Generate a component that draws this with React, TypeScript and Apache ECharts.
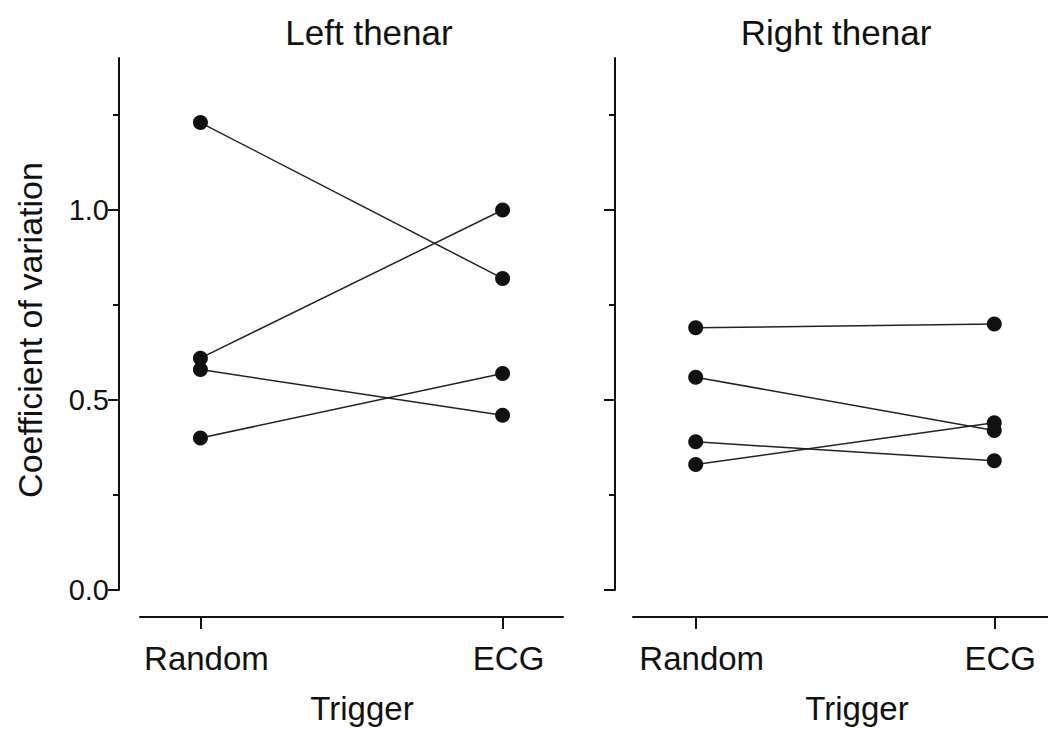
import React, { useEffect, useRef } from "react";
import * as echarts from "echarts";

// Coefficient of variation per subject, paired Random vs ECG trigger
const categories = ["Random", "ECG"];
const leftRandom = [1.23, 0.61, 0.58, 0.4];
const leftEcg = [0.82, 1.0, 0.46, 0.57];
const rightRandom = [0.69, 0.56, 0.39, 0.33];
const rightEcg = [0.7, 0.42, 0.34, 0.44];
const majorTicks = [0, 0.5, 1.0];
const minorTicks = [0.25, 0.75, 1.25];
const panelTitles = ["Left thenar", "Right thenar"];

const FONT = "'Liberation Sans', Arial, Helvetica, sans-serif";
const INK = "#111";

function pairSeries(randomVals: number[], ecgVals: number[], axisIndex: number) {
  return randomVals.map((r, i) => ({
    type: "line",
    xAxisIndex: axisIndex,
    yAxisIndex: axisIndex * 2,
    data: [
      [0, r],
      [1, ecgVals[i]],
    ],
    symbol: "circle",
    symbolSize: 15,
    itemStyle: { color: INK },
    lineStyle: { color: "#222", width: 1.5 },
    silent: true,
  }));
}

function xAxisFor(gridIndex: number, min: number, max: number) {
  return {
    type: "value",
    gridIndex,
    min,
    max,
    offset: 27,
    splitLine: { show: false },
    axisLine: { show: true, onZero: false, lineStyle: { color: INK, width: 2 } },
    axisTick: {
      show: true,
      customValues: [0, 1],
      length: 12,
      lineStyle: { color: INK, width: 2 },
    },
    axisLabel: {
      customValues: [0, 1],
      formatter: (v: number) => categories[Math.round(v)] ?? "",
      margin: 25,
      padding: [0, 0, 0, 12],
      color: INK,
      fontFamily: FONT,
      fontSize: 33,
    },
  };
}

function yAxesFor(gridIndex: number, offset: number, showLabels: boolean) {
  return [
    {
      type: "value",
      gridIndex,
      position: "left",
      min: 0,
      max: 1.4,
      offset,
      splitLine: { show: false },
      axisLine: { show: true, onZero: false, lineStyle: { color: INK, width: 2 } },
      axisTick: {
        show: true,
        customValues: majorTicks,
        length: 11,
        lineStyle: { color: INK, width: 2 },
      },
      axisLabel: {
        show: showLabels,
        customValues: majorTicks,
        formatter: (v: number) => v.toFixed(1),
        margin: 10,
        color: INK,
        fontFamily: FONT,
        fontSize: 29,
      },
    },
    {
      type: "value",
      gridIndex,
      position: "left",
      min: 0,
      max: 1.4,
      offset,
      splitLine: { show: false },
      axisLine: { show: false, onZero: false },
      axisTick: {
        show: true,
        customValues: minorTicks,
        length: 6,
        lineStyle: { color: INK, width: 2 },
      },
      axisLabel: { show: false },
    },
  ];
}

export default function App() {
  const ref = useRef<HTMLDivElement>(null);

  useEffect(() => {
    document.body.style.margin = "0";
    if (!ref.current) return;
    const chart = echarts.init(ref.current, undefined, { renderer: "svg" });

    const textStyle = (text: string, size: number) => ({
      text,
      textAlign: "center",
      textVerticalAlign: "middle",
      fontFamily: FONT,
      fontSize: size,
      fill: INK,
    });

    const option = {
      animation: false,
      backgroundColor: "#fff",
      grid: [
        { left: 140, top: 58, width: 423, height: 532 },
        { left: 633, top: 58, width: 415, height: 532 },
      ],
      xAxis: [xAxisFor(0, -0.2, 1.2), xAxisFor(1, -0.21, 1.18)],
      yAxis: [...yAxesFor(0, 21, true), ...yAxesFor(1, 18, false)],
      series: [...pairSeries(leftRandom, leftEcg, 0), ...pairSeries(rightRandom, rightEcg, 1)],
      graphic: [
        { type: "text", x: 369, y: 32, style: textStyle(panelTitles[0], 35) },
        { type: "text", x: 836, y: 32, style: textStyle(panelTitles[1], 35) },
        { type: "text", x: 362, y: 708, style: textStyle("Trigger", 33) },
        { type: "text", x: 857, y: 708, style: textStyle("Trigger", 33) },
        {
          type: "text",
          x: 30,
          y: 330,
          rotation: Math.PI / 2,
          style: textStyle("Coefficient of variation", 34),
        },
      ],
    };

    chart.setOption(option as any);
    return () => chart.dispose();
  }, []);

  return <div ref={ref} style={{ width: 1048, height: 729 }} />;
}
